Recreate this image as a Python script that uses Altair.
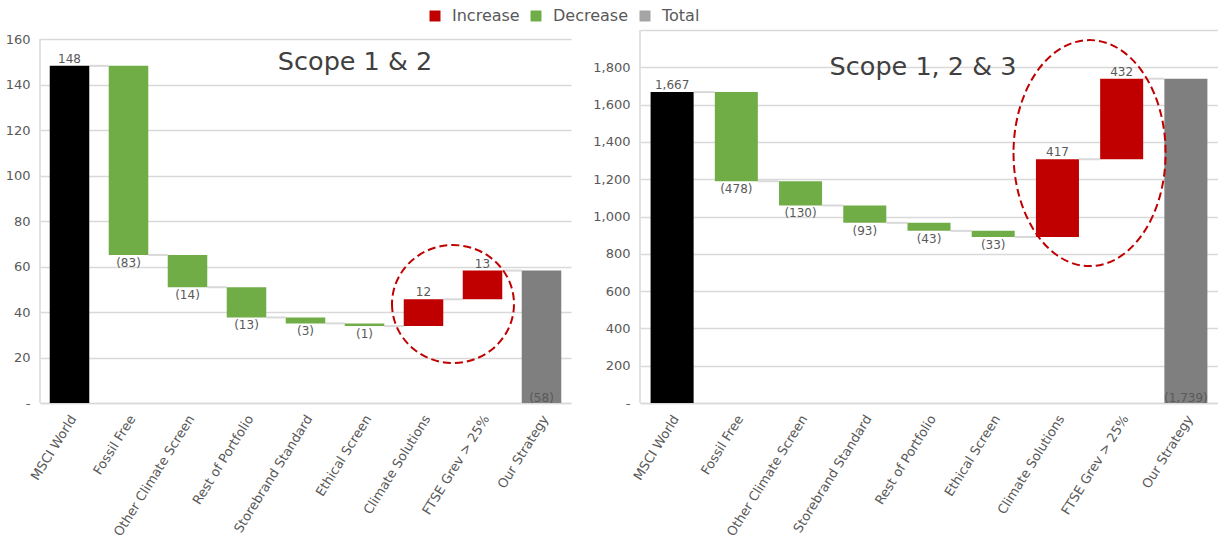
import altair as alt
import pandas as pd

FONT = "DejaVu Sans"
TEXT_GREY = "#595959"
GRID_GREY = "#d9d9d9"
RING_RED = "#C00000"

# Scope 1 & 2 emissions bridge (start value followed by step changes)
s12_categories = [
    "MSCI World", "Fossil Free", "Other Climate Screen", "Rest of Portfolio",
    "Storebrand Standard", "Ethical Screen", "Climate Solutions",
    "FTSE Grev > 25%", "Our Strategy",
]
s12_values = [148.2, -83.1, -14.2, -13.3, -2.6, -1.2, 11.8, 12.6]
s12_ticks = [0, 20, 40, 60, 80, 100, 120, 140, 160]

# Scope 1, 2 & 3 emissions bridge
s123_categories = [
    "MSCI World", "Fossil Free", "Other Climate Screen", "Storebrand Standard",
    "Rest of Portfolio", "Ethical Screen", "Climate Solutions",
    "FTSE Grev > 25%", "Our Strategy",
]
s123_values = [1667, -478, -130, -93, -43, -33, 417, 432]
s123_ticks = [0, 200, 400, 600, 800, 1000, 1200, 1400, 1600, 1800, 2000]

kind_domain = ["Increase", "Decrease", "Total", "Start", "End"]
kind_colors = ["#C00000", "#70AD47", "#A5A5A5", "#000000", "#7F7F7F"]
legend_entries = ["Increase", "Decrease", "Total"]


def fmt(v):
    return f"{round(abs(v)):,}"


def waterfall_frames(categories, values):
    bars, links = [], []
    level = 0.0
    for i, v in enumerate(values):
        if i == 0:
            kind, lo, hi, label = "Start", 0.0, v, fmt(v)
            level = v
        else:
            start = level
            level = level + v
            kind = "Increase" if v > 0 else "Decrease"
            lo, hi = min(start, level), max(start, level)
            label = fmt(v) if v > 0 else f"({fmt(v)})"
        bars.append(dict(cat=categories[i], kind=kind, lo=lo, hi=hi, label=label))
        links.append(dict(cat=categories[i], nxt=categories[i + 1], level=level))
    bars.append(dict(cat=categories[-1], kind="End", lo=0.0, hi=level,
                     label=f"({fmt(level)})"))
    return pd.DataFrame(bars), pd.DataFrame(links)


def panel(categories, values, y_max, ticks, width, height, heading, heading_x,
          heading_y, ring_anchor, ring_level, ring_shape, ring_size):
    bars, links = waterfall_frames(categories, values)
    top = ticks[-1]
    step = width / len(categories)
    label_expr = (f"datum.value == 0 ? '-' : datum.value >= {y_max} ? '' : "
                  "format(datum.value, ',')")

    x_scale = alt.Scale(domain=categories, paddingInner=0.33, paddingOuter=0.165)
    y_scale = alt.Scale(domain=[0, y_max], nice=False, zero=True)

    x_axis = alt.Axis(labelAngle=-58, ticks=False, domain=True, domainColor=GRID_GREY,
                      domainWidth=1.5, labelFontSize=13, labelColor=TEXT_GREY,
                      labelPadding=13, labelOffset=4, labelOverlap=False,
                      labelLimit=300, grid=False, labelFont=FONT)
    y_axis = alt.Axis(values=ticks, tickCount=len(ticks) + 5, labelExpr=label_expr,
                      grid=True, gridColor=GRID_GREY, gridWidth=1.5, domain=False,
                      ticks=False, labelPadding=10, labelOverlap=False,
                      labelFontSize=13, labelColor=TEXT_GREY, labelFont=FONT)

    base = alt.Chart(bars)
    bar_layer = base.mark_bar().encode(
        x=alt.X("cat:N", scale=x_scale, axis=x_axis, title=None),
        y=alt.Y("lo:Q", scale=y_scale, axis=y_axis, title=None),
        y2="hi:Q",
        color=alt.Color(
            "kind:N",
            scale=alt.Scale(domain=kind_domain, range=kind_colors),
            legend=alt.Legend(
                values=legend_entries, orient="none", legendX=387, legendY=-22,
                direction="horizontal", title=None, symbolType="square",
                symbolSize=121, symbolStrokeWidth=0, labelFontSize=16,
                labelColor=TEXT_GREY, labelFont=FONT, labelOffset=9,
                columnPadding=8, padding=0,
            ),
        ),
    )

    text_style = dict(fontSize=12, color=TEXT_GREY, font=FONT)
    above = base.transform_filter(
        "datum.kind == 'Start' || datum.kind == 'Increase'"
    ).mark_text(baseline="bottom", dy=0, **text_style).encode(
        x=alt.X("cat:N", title=None), y=alt.Y("hi:Q", title=None), text="label:N")
    below = base.transform_filter("datum.kind == 'Decrease'").mark_text(
        baseline="top", dy=3, **text_style).encode(
        x=alt.X("cat:N", title=None), y=alt.Y("lo:Q", title=None), text="label:N")
    ending = base.transform_filter("datum.kind == 'End'").mark_text(
        baseline="bottom", dy=2, **text_style).encode(
        x=alt.X("cat:N", title=None), y=alt.Y("lo:Q", title=None), text="label:N")

    link_layer = alt.Chart(links).mark_rule(color=GRID_GREY, strokeWidth=2).encode(
        x=alt.X("cat:N", bandPosition=1, title=None),
        x2=alt.X2("nxt:N", bandPosition=0),
        y=alt.Y("level:Q", title=None),
    )

    axis_line = alt.Chart(pd.DataFrame({"v": [0]})).mark_rule(
        color=GRID_GREY, strokeWidth=1.5).encode(
        x=alt.value(0), y=alt.datum(0), y2=alt.datum(top))

    # ring drawn around the two positive steps, centred on the gap between them
    ring = alt.Chart(pd.DataFrame({"cat": [ring_anchor], "level": [ring_level]})).mark_point(
        shape=ring_shape, size=ring_size, filled=False, stroke=RING_RED,
        strokeWidth=2, strokeDash=[8, 4], opacity=1, xOffset=step / 2,
    ).encode(
        x=alt.X("cat:N", title=None),
        y=alt.Y("level:Q", title=None),
    )

    heading_layer = alt.Chart(pd.DataFrame({"t": [heading]})).mark_text(
        fontSize=25.5, color="#404040", font=FONT, align="center", baseline="middle",
    ).encode(x=alt.value(heading_x), y=alt.value(heading_y), text="t:N")

    return alt.layer(
        link_layer, axis_line, bar_layer, above, below, ending, ring, heading_layer
    ).properties(width=width, height=height)


left = panel(
    s12_categories, s12_values, y_max=163.96, ticks=s12_ticks, width=531, height=373,
    heading="Scope 1 & 2", heading_x=315, heading_y=32,
    ring_anchor="Climate Solutions", ring_level=43.5,
    ring_shape="M -1 0 A 1 0.967 0 1 0 1 0 A 1 0.967 0 1 0 -1 0 Z",
    ring_size=122 * 122,
)
right = panel(
    s123_categories, s123_values, y_max=2000, ticks=s123_ticks, width=578, height=373,
    heading="Scope 1, 2 & 3", heading_x=283, heading_y=37,
    ring_anchor="Climate Solutions", ring_level=1340,
    ring_shape="M -0.673 0 A 0.673 1 0 1 0 0.673 0 A 0.673 1 0 1 0 -0.673 0 Z",
    ring_size=226 * 226,
)

chart = alt.hconcat(left, right, spacing=21).resolve_scale(
    x="independent", y="independent", color="shared"
).properties(
    padding={"left": 5, "top": 8, "right": 0, "bottom": 0}
).configure_view(strokeWidth=0)

chart.save("out.html", embed_options={"renderer": "svg", "actions": False})
